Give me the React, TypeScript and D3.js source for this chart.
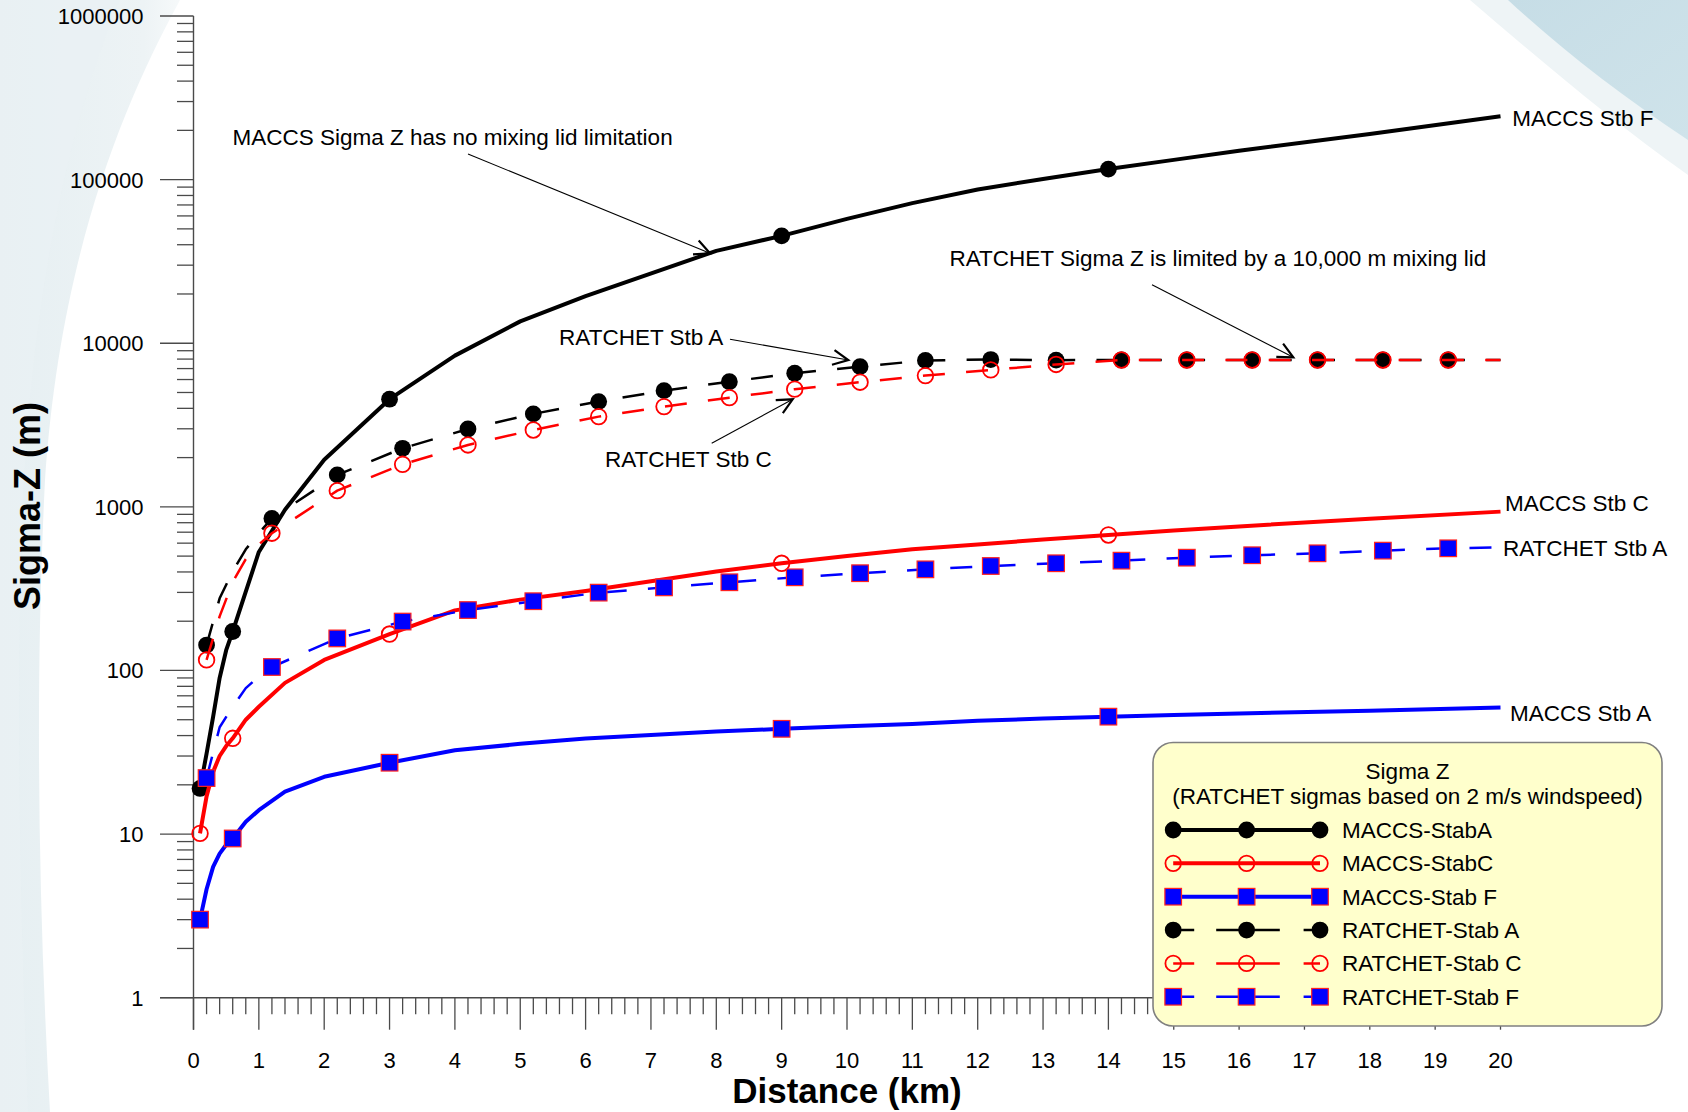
import React from "react";
import * as d3 from "d3";

const W = 1688;
const H = 1112;

// ---------- data ----------
const maccsDistance = [0.1, 0.2, 0.3, 0.4, 0.5, 0.6, 0.8, 1.0, 1.4, 2, 3, 4, 5, 6, 8, 9, 10, 11, 12, 13, 14, 15, 16, 18, 20];
const maccsStabA = [19, 31, 52, 90, 133, 173, 303, 530, 960, 1940, 4550, 8400, 13600, 19400, 36700, 45300, 57500, 71800, 87000, 101000, 116000, 132000, 150000, 190000, 244000];
const maccsStabC = [10.1, 17, 24, 30, 34.5, 38.5, 50, 60, 84, 116, 167, 233, 271, 306, 403, 452, 500, 550, 589, 631, 673, 716, 759, 847, 935];
const maccsStabF = [3.0, 4.6, 6.3, 7.6, 8.6, 9.4, 11.9, 14.0, 18.2, 22.4, 27.3, 32.5, 35.6, 38.4, 42.3, 44.0, 45.6, 47.0, 49.2, 50.8, 52.2, 53.4, 54.6, 56.8, 59.3];
const maccsMarkerDistance = [0.1, 0.6, 3, 9, 14];

const ratchetDistance = [0.2, 0.4, 0.6, 0.8, 1.0, 1.2, 2.2, 3.2, 4.2, 5.2, 6.2, 7.2, 8.2, 9.2, 10.2, 11.2, 12.2, 13.2, 14.2, 15.2, 16.2, 17.2, 18.2, 19.2, 20];
const ratchetStabA = [143, 276, 404, 550, 690, 850, 1567, 2280, 2990, 3700, 4400, 5130, 5820, 6560, 7200, 7850, 7950, 7880, 7900, 7900, 7900, 7900, 7900, 7900, 7900];
const ratchetStabC = [116, 214, 347, 479, 589, 690, 1256, 1820, 2390, 2950, 3560, 4100, 4650, 5240, 5780, 6340, 6870, 7420, 7900, 7900, 7900, 7900, 7900, 7900, 7900];
const ratchetStabF = [22, 45, 60, 78, 92, 105, 157, 199, 234, 265, 299, 322, 346, 371, 393, 415, 435, 452, 469, 489, 506, 520, 540, 558, 566];
const ratchetMarkerDistance = [0.2, 1.2, 2.2, 3.2, 4.2, 5.2, 6.2, 7.2, 8.2, 9.2, 10.2, 11.2, 12.2, 13.2, 14.2, 15.2, 16.2, 17.2, 18.2, 19.2];

const legendLabels = ["MACCS-StabA", "MACCS-StabC", "MACCS-Stab F", "RATCHET-Stab A", "RATCHET-Stab C", "RATCHET-Stab F"];
const legendTitle = "Sigma Z";
const legendSubtitle = "(RATCHET sigmas based on 2 m/s windspeed)";
const xTitle = "Distance (km)";
const yTitle = "Sigma-Z (m)";

// ---------- layout ----------
const FONT = "'Liberation Sans', Arial, Helvetica, sans-serif";
const X0 = 193.5, X1 = 1500.5;
const Y_TOP = 16, Y_BOT = 997.7;

const x = d3.scaleLinear().domain([0, 20]).range([X0, X1]);
const y = d3.scaleLog().domain([1, 1e6]).range([Y_BOT, Y_TOP]);

type Marker = "circle" | "open" | "square";
interface Series {
  d: number[];
  v: number[];
  marks: number[];
  color: string;
  width: number;
  dash?: string;
  marker: Marker;
}

const series: Series[] = [
  { d: maccsDistance, v: maccsStabA, marks: maccsMarkerDistance, color: "#000000", width: 4, marker: "circle" },
  { d: maccsDistance, v: maccsStabC, marks: maccsMarkerDistance, color: "#ff0000", width: 4, marker: "open" },
  { d: maccsDistance, v: maccsStabF, marks: maccsMarkerDistance, color: "#0000ff", width: 4, marker: "square" },
  { d: ratchetDistance, v: ratchetStabA, marks: ratchetMarkerDistance, color: "#000000", width: 2.5, dash: "22 21.3", marker: "circle" },
  { d: ratchetDistance, v: ratchetStabC, marks: ratchetMarkerDistance, color: "#ff0000", width: 2.5, dash: "22 21.3", marker: "open" },
  { d: ratchetDistance, v: ratchetStabF, marks: ratchetMarkerDistance, color: "#0000ff", width: 2.5, dash: "22 21.3", marker: "square" },
];

function MarkerGlyph({ type, cx, cy }: { type: Marker; cx: number; cy: number }) {
  if (type === "circle") return <circle cx={cx} cy={cy} r={8.4} fill="#000" />;
  if (type === "open") return <circle cx={cx} cy={cy} r={7.8} fill="none" stroke="#ff0000" strokeWidth={1.8} />;
  return <rect x={cx - 8.3} y={cy - 8.3} width={16.6} height={16.6} fill="#0000ff" stroke="#ff2020" strokeWidth={1.2} />;
}

function Arrow({ x1, y1, x2, y2 }: { x1: number; y1: number; x2: number; y2: number }) {
  const ang = Math.atan2(y2 - y1, x2 - x1);
  const L = 17;
  const a = (26 * Math.PI) / 180;
  const w1 = [x2 - L * Math.cos(ang - a), y2 - L * Math.sin(ang - a)];
  const w2 = [x2 - L * Math.cos(ang + a), y2 - L * Math.sin(ang + a)];
  return (
    <g>
      <line x1={x1} y1={y1} x2={x2} y2={y2} stroke="#000" strokeWidth={1.1} />
      <polyline points={`${w1[0]},${w1[1]} ${x2},${y2} ${w2[0]},${w2[1]}`} fill="none" stroke="#000" strokeWidth={2.2} strokeLinejoin="miter" />
    </g>
  );
}

export default function App() {
  const line = d3
    .line<[number, number]>()
    .x((p) => x(p[0]))
    .y((p) => y(p[1]));

  const yTicks = y.ticks();
  const xTicks = x.ticks(100);
  const isMajorY = (t: number) => Math.abs(Math.log10(t) - Math.round(Math.log10(t))) < 1e-9;
  const isMajorX = (t: number) => Math.abs(t - Math.round(t)) < 1e-9;
  const fs = 22;
  const afs = 22.5;

  // legend geometry
  const LG = { x: 1153, y: 742.5, w: 509, h: 283.5 };
  const rowY = (i: number) => 830 + i * 33.35;
  const s0 = 1173.2, s1 = 1246.6, s2 = 1320;

  return (
    <svg
      width={W}
      height={H}
      viewBox={`0 0 ${W} ${H}`}
      style={{ position: "absolute", left: 0, top: 0, display: "block", background: "#ffffff" }}
      fontFamily={FONT}
    >
      <defs>
        <linearGradient id="leftBg" x1="0" y1="0" x2="1" y2="0">
          <stop offset="0" stopColor="#e6eff2" />
          <stop offset="0.8" stopColor="#edf3f5" />
          <stop offset="1" stopColor="#f6f9fa" />
        </linearGradient>
        <linearGradient id="trBg" x1="0" y1="0" x2="1" y2="1">
          <stop offset="0" stopColor="#c6dde6" />
          <stop offset="1" stopColor="#cfe3ea" />
        </linearGradient>
      </defs>

      {/* background decorations */}
      <rect x={0} y={0} width={W} height={H} fill="#ffffff" />
      <path d="M0,0 L180,0 C120,110 60,260 45,480 C35,680 38,900 50,1112 L0,1112 Z" fill="url(#leftBg)" />
      <path d="M0,0 L120,0 C70,120 30,300 22,520 C16,720 20,900 28,1112 L0,1112 Z" fill="#e9f1f4" opacity={0.7} />
      <path d="M1470,0 L1688,0 L1688,175 C1610,120 1540,60 1470,0 Z" fill="#eef4f6" />
      <path d="M1508,0 L1688,0 L1688,140 C1620,95 1560,48 1508,0 Z" fill="url(#trBg)" />

      {/* y axis */}
      <line x1={X0} y1={Y_TOP} x2={X0} y2={Y_BOT + 32} stroke="#4a4a4a" strokeWidth={1.4} />
      {yTicks.map((t, i) => {
        const major = isMajorY(t);
        return (
          <line key={`yt${i}`} x1={X0 - (major ? 33.5 : 16.5)} y1={y(t)} x2={X0} y2={y(t)} stroke="#4a4a4a" strokeWidth={1.3} />
        );
      })}
      {yTicks.filter(isMajorY).map((t, i) => (
        <text key={`yl${i}`} x={143.5} y={y(t) + 8} fontSize={fs} textAnchor="end" fill="#000">
          {d3.format("d")(t)}
        </text>
      ))}

      {/* x axis */}
      <line x1={X0 - 33.5} y1={Y_BOT} x2={X1} y2={Y_BOT} stroke="#4a4a4a" strokeWidth={1.4} />
      {xTicks.map((t, i) => {
        const major = isMajorX(t);
        return (
          <line key={`xt${i}`} x1={x(t)} y1={Y_BOT} x2={x(t)} y2={Y_BOT + (major ? 32 : 16.5)} stroke="#4a4a4a" strokeWidth={1.3} />
        );
      })}
      {xTicks.filter(isMajorX).map((t, i) => (
        <text key={`xl${i}`} x={x(t)} y={1068} fontSize={fs} textAnchor="middle" fill="#000">
          {d3.format("d")(t)}
        </text>
      ))}

      {/* series */}
      {series.map((s, si) => {
        const pts = s.d.map((d, i) => [d, s.v[i]] as [number, number]);
        const marks = s.marks
          .map((m) => s.d.findIndex((d) => Math.abs(d - m) < 1e-9))
          .filter((i) => i >= 0);
        return (
          <g key={`s${si}`}>
            <path
              d={line(pts) || ""}
              fill="none"
              stroke={s.color}
              strokeWidth={s.width}
              strokeDasharray={s.dash}
              strokeLinejoin="round"
            />
            {marks.map((i) => (
              <MarkerGlyph key={`m${si}-${i}`} type={s.marker} cx={x(s.d[i])} cy={y(s.v[i])} />
            ))}
          </g>
        );
      })}

      {/* annotations */}
      <text x={232.5} y={136.7 + 8} fontSize={afs} fill="#000">MACCS Sigma Z has no mixing lid limitation</text>
      <Arrow x1={468} y1={154} x2={710} y2={253.3} />
      <text x={949.5} y={258.4 + 8} fontSize={afs} fill="#000">RATCHET Sigma Z is limited by a 10,000 m mixing lid</text>
      <Arrow x1={1152} y1={284.7} x2={1293.3} y2={357.3} />
      <text x={723.3} y={337.3 + 8} fontSize={afs} textAnchor="end" fill="#000">RATCHET Stb A</text>
      <Arrow x1={730} y1={339.3} x2={848.3} y2={360} />
      <text x={605} y={459.3 + 8} fontSize={afs} fill="#000">RATCHET Stb C</text>
      <Arrow x1={711.7} y1={443.3} x2={792.7} y2={399.3} />

      <text x={1512.3} y={118.3 + 8} fontSize={afs} fill="#000">MACCS Stb F</text>
      <text x={1505} y={503 + 8} fontSize={afs} fill="#000">MACCS Stb C</text>
      <text x={1503} y={548.3 + 8} fontSize={afs} fill="#000">RATCHET Stb A</text>
      <text x={1510} y={712.5 + 8} fontSize={afs} fill="#000">MACCS Stb A</text>

      {/* legend */}
      <rect x={LG.x} y={LG.y} width={LG.w} height={LG.h} rx={20} ry={20} fill="#ffffcc" stroke="#808080" strokeWidth={1.6} />
      <text x={LG.x + LG.w / 2} y={770.7 + 8} fontSize={afs} textAnchor="middle" fill="#000">{legendTitle}</text>
      <text x={LG.x + LG.w / 2} y={796 + 8} fontSize={afs} textAnchor="middle" fill="#000">{legendSubtitle}</text>
      {series.map((s, i) => {
        const ry = rowY(i);
        return (
          <g key={`lg${i}`}>
            <line
              x1={s0}
              y1={ry}
              x2={s2}
              y2={ry}
              stroke={s.color}
              strokeWidth={s.width}
              strokeDasharray={s.dash ? "21 22 63.6 23.8 20" : undefined}
            />
            {[s0, s1, s2].map((mx, k) => (
              <MarkerGlyph key={`lgm${i}-${k}`} type={s.marker} cx={mx} cy={ry} />
            ))}
            <text x={1342} y={ry + 8} fontSize={afs} fill="#000">{legendLabels[i]}</text>
          </g>
        );
      })}

      {/* axis titles */}
      <text x={(X0 + X1) / 2} y={1103} fontSize={35} fontWeight="bold" textAnchor="middle" fill="#000">{xTitle}</text>
      <text
        transform={`translate(40,506) rotate(-90)`}
        fontSize={36}
        fontWeight="bold"
        textAnchor="middle"
        fill="#000"
      >
        {yTitle}
      </text>
    </svg>
  );
}
